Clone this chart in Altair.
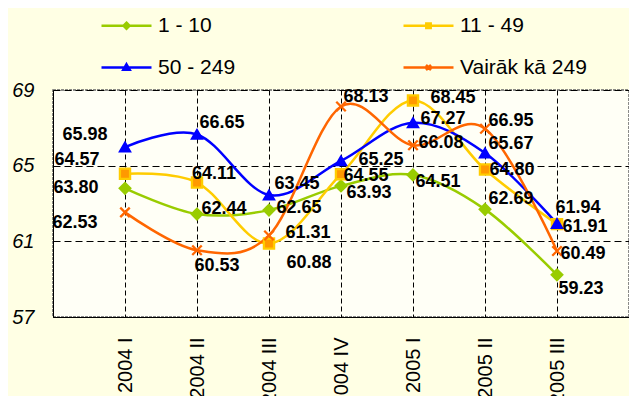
import altair as alt
import pandas as pd

# ---- data ----
quarters = ["2004 I", "2004 II", "2004 III", "2004 IV", "2005 I", "2005 II", "2005 III"]
series_names = ["1 - 10", "11 - 49", "50 - 249", "Vairāk kā 249"]
values_1_10 = [63.80, 62.44, 62.65, 63.93, 64.51, 62.69, 59.23]
values_11_49 = [64.57, 64.11, 60.88, 64.55, 68.45, 64.80, 61.91]
values_50_249 = [65.98, 66.65, 63.45, 65.25, 67.27, 65.67, 61.94]
values_over_249 = [62.53, 60.53, 61.31, 68.13, 66.08, 66.95, 60.49]
y_ticks = [57, 61, 65, 69]

# ---- label placement (pixel offsets, style only) ----
label_dx = [
    [-49, 27, 30, 28, 25, 26, 24],
    [-48, 17, 40, 25, 40, 27, 28],
    [-40, 25, 28, 40, 30, 26, 21],
    [-50, 20, 39, 25, 28, 26, 26],
]
label_dy = [
    [0, -5, -2, 7, 7, -10, 14],
    [-14, -9, 19, 2, -2, 1, 3],
    [-12, -11, -11, -1, -4, -9, -16],
    [11, 16, -2, -9, -2, -8, 3],
]

# ---- styles ----
PLOT_W, PLOT_H = 576, 227
Y_MIN, Y_MAX = 57, 69
line_colors = ["#99CC00", "#FFCC00", "#0000FF", "#FF6600"]
marker_fills = ["#99CC00", "#FF9900", "#0000FF", "transparent"]
marker_shapes = ["diamond", "square", "triangle-up", "M-1,-1L1,1M-1,1L1,-1"]
marker_sizes = [110, 90, 150, 130]
legend_order = ["1 - 10", "11 - 49", "50 - 249", "Vairāk kā 249"]
legend_shapes = [
    "M-4,0L1,0M-1.5,-0.3L-1.2,0L-1.5,0.3L-1.8,0Z",
    "M-4,0L1,0M-1.72,-0.22L-1.28,-0.22L-1.28,0.22L-1.72,0.22Z",
    "M-4,0L1,0M-1.5,-0.32L-1.18,0.22L-1.82,0.22Z",
    "M-4,0L1,0M-1.75,-0.25L-1.25,0.25M-1.75,0.25L-1.25,-0.25",
]
FONT = "Liberation Sans, Arial, sans-serif"

series_values = [values_1_10, values_11_49, values_50_249, values_over_249]
rows = []
for s, vals, dxs, dys in zip(series_names, series_values, label_dx, label_dy):
    for q, v, dx, dy in zip(quarters, vals, dxs, dys):
        rows.append({"series": s, "quarter": q, "value": v, "dx": dx, "dy": dy})
df = pd.DataFrame(rows)

x_enc = alt.X(
    "quarter:N",
    scale=alt.Scale(type="point", domain=quarters, padding=1),
    axis=alt.Axis(
        title=None, labelAngle=270, labelAlign="right", labelBaseline="middle",
        labelFontSize=20, labelFont=FONT, labelColor="#000000", labelPadding=20,
        ticks=False, domain=True, domainColor="#000000", domainWidth=1,
        grid=True, gridDash=[5, 3], gridColor="#000000", gridWidth=1,
    ),
)
y_scale = alt.Scale(domain=[Y_MIN, Y_MAX], nice=False, zero=False)
y_axis = alt.Axis(
    title=None, values=y_ticks, labelFontSize=20, labelFont=FONT,
    labelFontStyle="italic", labelColor="#000000", labelPadding=19,
    ticks=False, domain=True, domainColor="#000000", domainWidth=1,
    grid=True, gridDash=[7, 4], gridColor="#000000", gridWidth=1,
)
y_enc = alt.Y("value:Q", scale=y_scale, axis=y_axis)

stroke_scale = alt.Scale(domain=series_names, range=line_colors)

lines = alt.Chart(df).mark_line(interpolate="cardinal", strokeWidth=2.5).encode(
    x=x_enc, y=y_enc,
    stroke=alt.Stroke("series:N", scale=stroke_scale, legend=None),
)

points = alt.Chart(df).mark_point(filled=False, strokeWidth=2.3, opacity=1).encode(
    x=x_enc, y=y_enc,
    shape=alt.Shape("series:N", scale=alt.Scale(domain=series_names, range=marker_shapes), legend=None),
    fill=alt.Fill("series:N", scale=alt.Scale(domain=series_names, range=marker_fills), legend=None),
    stroke=alt.Stroke("series:N", scale=stroke_scale, legend=None),
    size=alt.Size("series:N", scale=alt.Scale(domain=series_names, range=marker_sizes), legend=None),
)

units_per_px = (Y_MAX - Y_MIN) / PLOT_H
labels = alt.Chart(df).transform_calculate(
    label_y=f"datum.value - datum.dy * {units_per_px}"
).mark_text(
    font=FONT, fontSize=18, fontWeight="bold", color="#000000",
    align="center", baseline="middle",
).encode(
    x=x_enc,
    y=alt.Y("label_y:Q", scale=y_scale, axis=y_axis),
    xOffset=alt.XOffset("dx:Q", scale=None),
    text=alt.Text("value:Q", format=".2f"),
)

legend_layer = alt.Chart(df).transform_filter("false").mark_point(strokeWidth=2.5, opacity=1).encode(
    x=x_enc, y=y_enc,
    shape=alt.Shape(
        "series:N",
        scale=alt.Scale(domain=legend_order, range=legend_shapes),
        legend=alt.Legend(
            title=None, orient="none", legendX=77, legendY=-76, columns=2,
            direction="horizontal",
            columnPadding=162, rowPadding=20, padding=0,
            symbolSize=400, symbolStrokeWidth=2.5, symbolOpacity=1,
            labelFont=FONT, labelFontSize=21, labelColor="#000000", labelOffset=5,
            labelLimit=300,
        ),
    ),
    fill=alt.Fill("series:N", scale=alt.Scale(domain=legend_order, range=marker_fills)),
    stroke=alt.Stroke("series:N", scale=alt.Scale(domain=legend_order, range=line_colors)),
)

chart = alt.layer(lines, points, labels, legend_layer).resolve_scale(
    shape="independent", fill="independent", stroke="independent", size="independent"
).resolve_legend(
    shape="independent", fill="independent", stroke="independent"
).properties(
    width=PLOT_W, height=PLOT_H,
    padding={"left": 45, "top": 82, "right": 0, "bottom": 79},
    autosize=alt.AutoSizeParams(type="none"),
    background="#FFFFE4",
).configure_view(
    stroke="#666666", strokeWidth=1.5, strokeDash=[3, 1],
    fill="#FFFFF6",
)

chart.save("out.html", embed_options={"renderer": "svg", "actions": False})
